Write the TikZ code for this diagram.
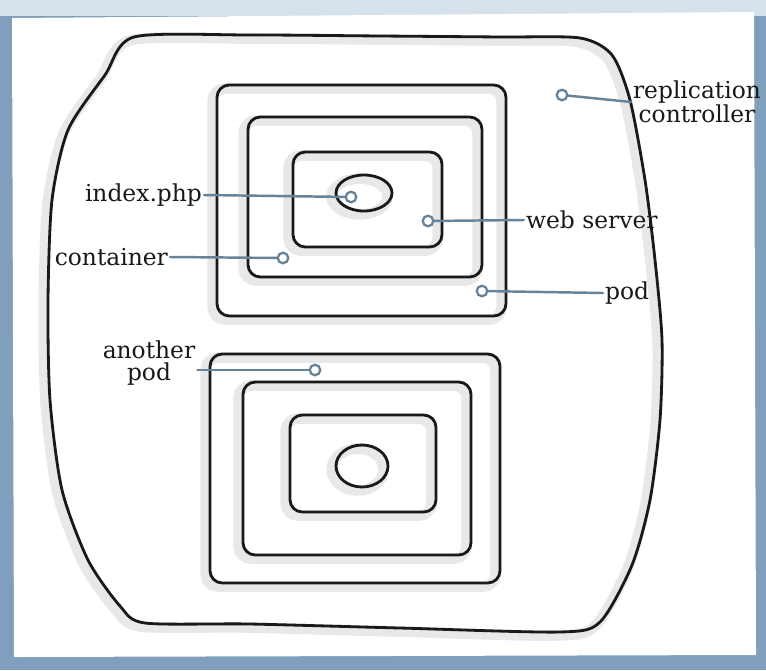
\documentclass[tikz,border=0pt]{standalone}
\usepackage{fontspec}
\setmainfont{DejaVu Serif}
\usepackage{xcolor}
\usetikzlibrary{positioning}
\definecolor{frameblue}{HTML}{7F9FBC}
\definecolor{skyband}{HTML}{D6E2EB}
\definecolor{pin}{HTML}{65839B}

\begin{document}
\begin{tikzpicture}[
  x=0.02cm, y=-0.02cm,
  sketch/.style={draw=black!90, line width=1.6pt, rounded corners=7pt, line join=round,
    preaction={draw=black!9, line width=6pt, transform canvas={shift={(-2.5pt,-2pt)}}}},
  lbl/.style={font=\fontsize{13.3}{12.6}\selectfont, align=center, inner sep=1pt, text=black!90},
  dot/.style={circle, draw=pin, line width=1.3pt, fill=white, minimum size=6pt, inner sep=0pt},
  pointer/.style={draw=pin, line width=1.4pt, line cap=round}
]
% frame and paper
\useasboundingbox (0,0) rectangle (766,670);
\fill[frameblue] (0,0) rectangle (766,670);
\fill[skyband] (0,0) rectangle (766,16);
\fill[white] (12,18) -- (754,12) -- (756,655) -- (14,657) -- cycle;

% replication controller
\draw[sketch, sharp corners] plot[smooth cycle, tension=0.45] coordinates {
  (134,37) (250,35) (380,36) (500,37) (580,38) (612,55) (630,100) (645,180)
  (655,260) (662,340) (660,420) (650,500) (632,565) (600,622) (560,632)
  (400,628) (250,624) (145,623) (120,606) (88,560) (62,490) (50,400)
  (48,300) (52,200) (68,130) (105,75)};

% first pod
\draw[sketch] (217,85) rectangle (506,316);
\draw[sketch] (248,117) rectangle (482,277);
\draw[sketch] (293,152) rectangle (442,247);
\draw[sketch] (364,193) ellipse (28 and 18);

% another pod
\draw[sketch] (210,354) rectangle (500,583);
\draw[sketch] (243,382) rectangle (471,555);
\draw[sketch] (290,415) rectangle (436,512);
\draw[sketch] (362,466) ellipse (26 and 21);

% pins
\node[dot] (rcdot) at (562,95) {};
\node[dot] (phpdot) at (351,197) {};
\node[dot] (wsdot) at (428,221) {};
\node[dot] (ctdot) at (283,258) {};
\node[dot] (poddot) at (482,291) {};
\node[dot] (anpoddot) at (315,370) {};

% labels
\node[lbl] (rclbl) at (697,102) {replication\\controller};
\node[lbl, anchor=east] (phplbl) at (204,195) {index.php};
\node[lbl, anchor=west] (wslbl) at (524,220) {web server};
\node[lbl, anchor=east] (ctlbl) at (170,257) {container};
\node[lbl, anchor=west] (podlbl) at (603,293) {pod};
\node[lbl] (anpodlbl) at (149,363) {another\\pod};

\draw[pointer] (rcdot) -- (rclbl.west);
\draw[pointer] (phplbl.east) -- (phpdot);
\draw[pointer] (wsdot) -- (wslbl.west);
\draw[pointer] (ctlbl.east) -- (ctdot);
\draw[pointer] (poddot) -- (podlbl.west);
\draw[pointer] (anpodlbl.east |- anpoddot) -- (anpoddot);
\end{tikzpicture}
\end{document}
